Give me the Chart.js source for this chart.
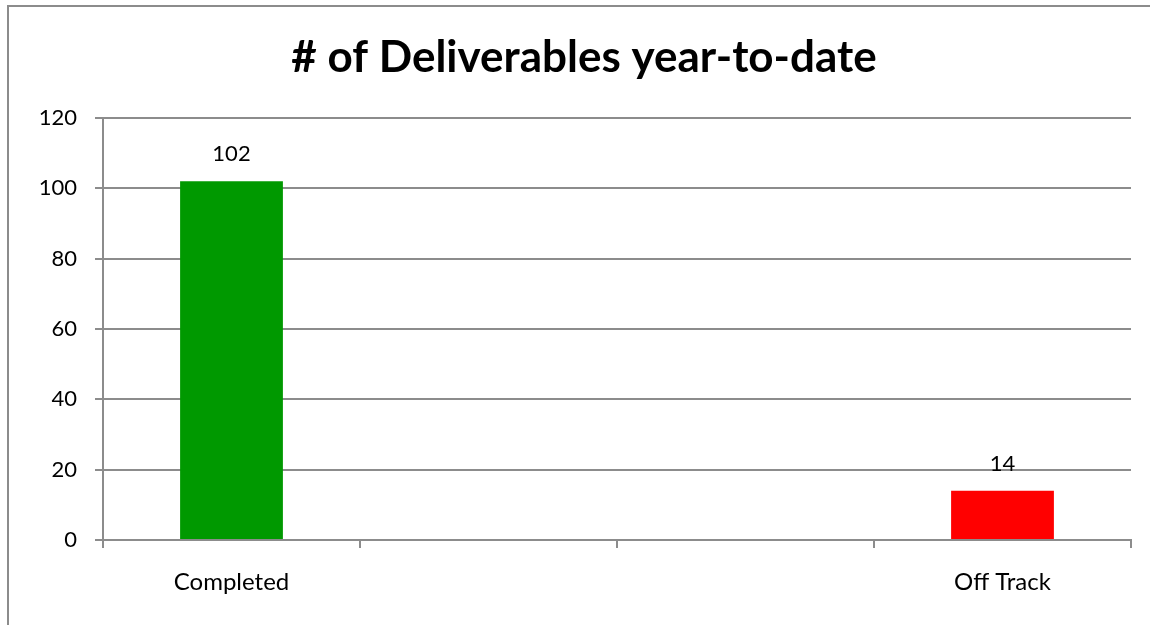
<!DOCTYPE html>
<html>
<head>
<meta charset="utf-8">
<script src="https://cdn.jsdelivr.net/npm/chart.js@4"></script>
<style>
    html, body { margin: 0; padding: 0; background: #fff; overflow: hidden; }
    #wrap { position: relative; width: 1168px; height: 625px; }
    #frame { position: absolute; left: 7px; top: 5px; width: 1200px; height: 700px;
             border-left: 2px solid #8c8c8c; border-top: 2px solid #8c8c8c; pointer-events: none; }
</style>
</head>
<body>
<div id="wrap">
    <canvas id="deliverablesChart" width="1168" height="625"></canvas>
    <div id="frame"></div>
</div>
<script>
const categories = ["Completed", "", "", "Off Track"];
const deliverables = [102, null, null, 14];
const barColors = ["#009900", "#009900", "#009900", "#ff0000"];
const yTicks = [0, 20, 40, 60, 80, 100, 120];

const gridGray = "#8c8c8c";
const fontName = "Lato, 'Open Sans', sans-serif";

// draws the number above each bar
const valueLabels = {
    id: "valueLabels",
    afterDatasetsDraw(chart) {
        const ctx = chart.ctx;
        const meta = chart.getDatasetMeta(0);
        ctx.save();
        ctx.font = "22px " + fontName;
        ctx.fillStyle = "#000";
        ctx.textAlign = "center";
        ctx.textBaseline = "middle";
        meta.data.forEach((bar, i) => {
            if (deliverables[i] == null) return;
            ctx.fillText(deliverables[i], bar.x, bar.y - 27);
        });
        ctx.restore();
    }
};

const ctx = document.getElementById("deliverablesChart").getContext("2d");
const deliverablesChart = new Chart(ctx, {
    type: "bar",
    data: {
        labels: categories,
        datasets: [{
            data: deliverables,
            backgroundColor: barColors,
            categoryPercentage: 1,
            barPercentage: 0.4,
        }]
    },
    options: {
        responsive: false,
        animation: false,
        layout: { padding: 0 },
        plugins: {
            legend: { display: false },
            tooltip: { enabled: false },
            title: {
                display: true,
                text: "# of Deliverables year-to-date",
                color: "#000",
                font: { family: fontName, size: 44, weight: "bold" },
                padding: { top: 31, bottom: 34 },
            },
        },
        scales: {
            x: {
                grid: { offset: true, drawOnChartArea: false, drawTicks: true, tickLength: 8, color: gridGray, lineWidth: 2 },
                border: { color: gridGray, width: 2 },
                ticks: { color: "#000", font: { family: fontName, size: 24 }, padding: 20, maxRotation: 0 },
                afterFit(scale) { scale.height = 85; },
            },
            y: {
                min: 0,
                max: 120,
                afterBuildTicks(scale) { scale.ticks = yTicks.map(v => ({ value: v })); },
                grid: { color: gridGray, lineWidth: 2, tickLength: 8 },
                border: { color: gridGray, width: 2 },
                ticks: { color: "#000", font: { family: fontName, size: 22 }, padding: 18 },
                afterFit(scale) { scale.width = 103; },
            },
            // empty space on the right so the title centres like the original
            spacer: {
                type: "linear",
                position: "right",
                grid: { display: false },
                border: { display: false },
                ticks: { display: false },
                afterFit(scale) { scale.width = 37; },
            }
        }
    },
    plugins: [valueLabels]
});
</script>
</body>
</html>
